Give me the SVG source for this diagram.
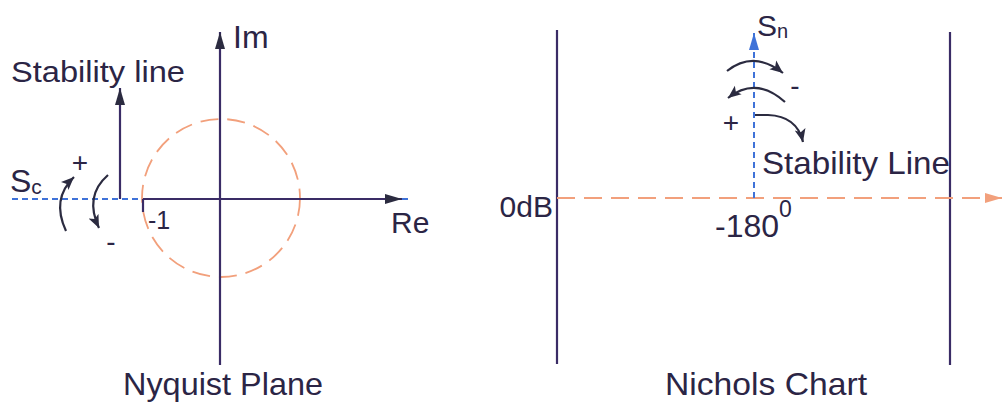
<svg xmlns="http://www.w3.org/2000/svg" width="1004" height="406" viewBox="0 0 1004 406">
<defs>
<style>
.t{font-family:"Liberation Sans",Arial,sans-serif;fill:#2b2545}
.ax{stroke:#3a2c66;stroke-width:2.2;fill:none}
.bl{stroke:#3f72d8;stroke-width:2;stroke-dasharray:6 4;fill:none}
.or{stroke:#f2a07c;stroke-width:1.8;stroke-dasharray:18 9;fill:none}
.arc{stroke:#2b2b40;stroke-width:2.2;fill:none}
</style>
<marker id="ah" markerUnits="userSpaceOnUse" markerWidth="18" markerHeight="14" viewBox="0 0 18 14" refX="17" refY="7" orient="auto">
<path d="M0,2 L17,7 L0,12 Z" fill="#2b2b40"/>
</marker>
<marker id="ahs" markerUnits="userSpaceOnUse" markerWidth="14" markerHeight="12" viewBox="0 0 14 12" refX="13" refY="6" orient="auto">
<path d="M0,0.5 L13,6 L0,11.5 L3,6 Z" fill="#2b2b40"/>
</marker>
<marker id="ahb" markerUnits="userSpaceOnUse" markerWidth="18" markerHeight="14" viewBox="0 0 18 14" refX="17" refY="7" orient="auto">
<path d="M0,2 L17,7 L0,12 Z" fill="#3f72d8"/>
</marker>
<marker id="aho" markerUnits="userSpaceOnUse" markerWidth="18" markerHeight="14" viewBox="0 0 18 14" refX="17" refY="7" orient="auto">
<path d="M0,2 L17,7 L0,12 Z" fill="#f2a07c"/>
</marker>
</defs>
<rect width="1004" height="406" fill="#ffffff"/>

<g id="connectors">
<!-- Nyquist -->
<line class="bl" x1="12" y1="199" x2="408" y2="199"/>
<circle class="or" cx="221" cy="198" r="79" stroke-dasharray="14 8"/>
<line class="ax" x1="143" y1="199" x2="402" y2="199" stroke-width="2" marker-end="url(#ah)"/>
<line class="ax" x1="220" y1="365" x2="220" y2="32" marker-end="url(#ah)"/>
<line class="ax" x1="120" y1="199" x2="120" y2="88" marker-end="url(#ah)"/>
<line class="ax" x1="143" y1="199" x2="143" y2="212" stroke-width="2"/>
<path class="arc" d="M66,231 Q51,199 74,177" marker-end="url(#ahs)"/>
<path class="arc" d="M108,175 Q84,196 99,228" marker-end="url(#ahs)"/>
<!-- Nichols -->
<line class="ax" x1="557" y1="30" x2="557" y2="364"/>
<line class="ax" x1="950" y1="32" x2="950" y2="365"/>
<line class="or" x1="557" y1="198" x2="1002" y2="198" marker-end="url(#aho)"/>
<line class="bl" x1="754" y1="198" x2="754" y2="33" stroke-dasharray="5 4" marker-end="url(#ahb)"/>
<path class="arc" d="M727,71 Q754,50 783,73" marker-end="url(#ahs)"/>
<path class="arc" d="M785,102 Q756,76 728,98" marker-end="url(#ahs)"/>
<path class="arc" d="M755,115 L768,115 Q797,116 803,142" marker-end="url(#ahs)"/>
</g>

<g id="nyquist-labels">
<text class="t" x="11" y="82" font-size="29" textLength="174" lengthAdjust="spacingAndGlyphs">Stability line</text>
<text class="t" x="233" y="48" font-size="32">Im</text>
<text class="t" x="391" y="233" font-size="30">Re</text>
<text class="t" x="148" y="229" font-size="25">-1</text>
<text class="t" x="10" y="192" font-size="32">S<tspan font-size="21" dy="2">c</tspan></text>
<text class="t" x="80" y="172" font-size="28" text-anchor="middle">+</text>
<text class="t" x="111" y="251" font-size="28" text-anchor="middle">-</text>
<text class="t" x="123" y="395" font-size="32" textLength="200" lengthAdjust="spacingAndGlyphs">Nyquist Plane</text>
</g>

<g id="nichols-labels">
<text class="t" x="757" y="36" font-size="30">S<tspan font-size="20" dy="2">n</tspan></text>
<text class="t" x="553" y="217" font-size="30" text-anchor="end">0dB</text>
<text class="t" x="715" y="237" font-size="32">-180<tspan font-size="23" dy="-20">0</tspan></text>
<text class="t" x="762" y="174" font-size="32" textLength="188" lengthAdjust="spacingAndGlyphs">Stability Line</text>
<text class="t" x="731" y="132" font-size="28" text-anchor="middle">+</text>
<text class="t" x="795" y="95" font-size="28" text-anchor="middle">-</text>
<text class="t" x="665" y="395" font-size="32" textLength="202" lengthAdjust="spacingAndGlyphs">Nichols Chart</text>
</g>
</svg>
